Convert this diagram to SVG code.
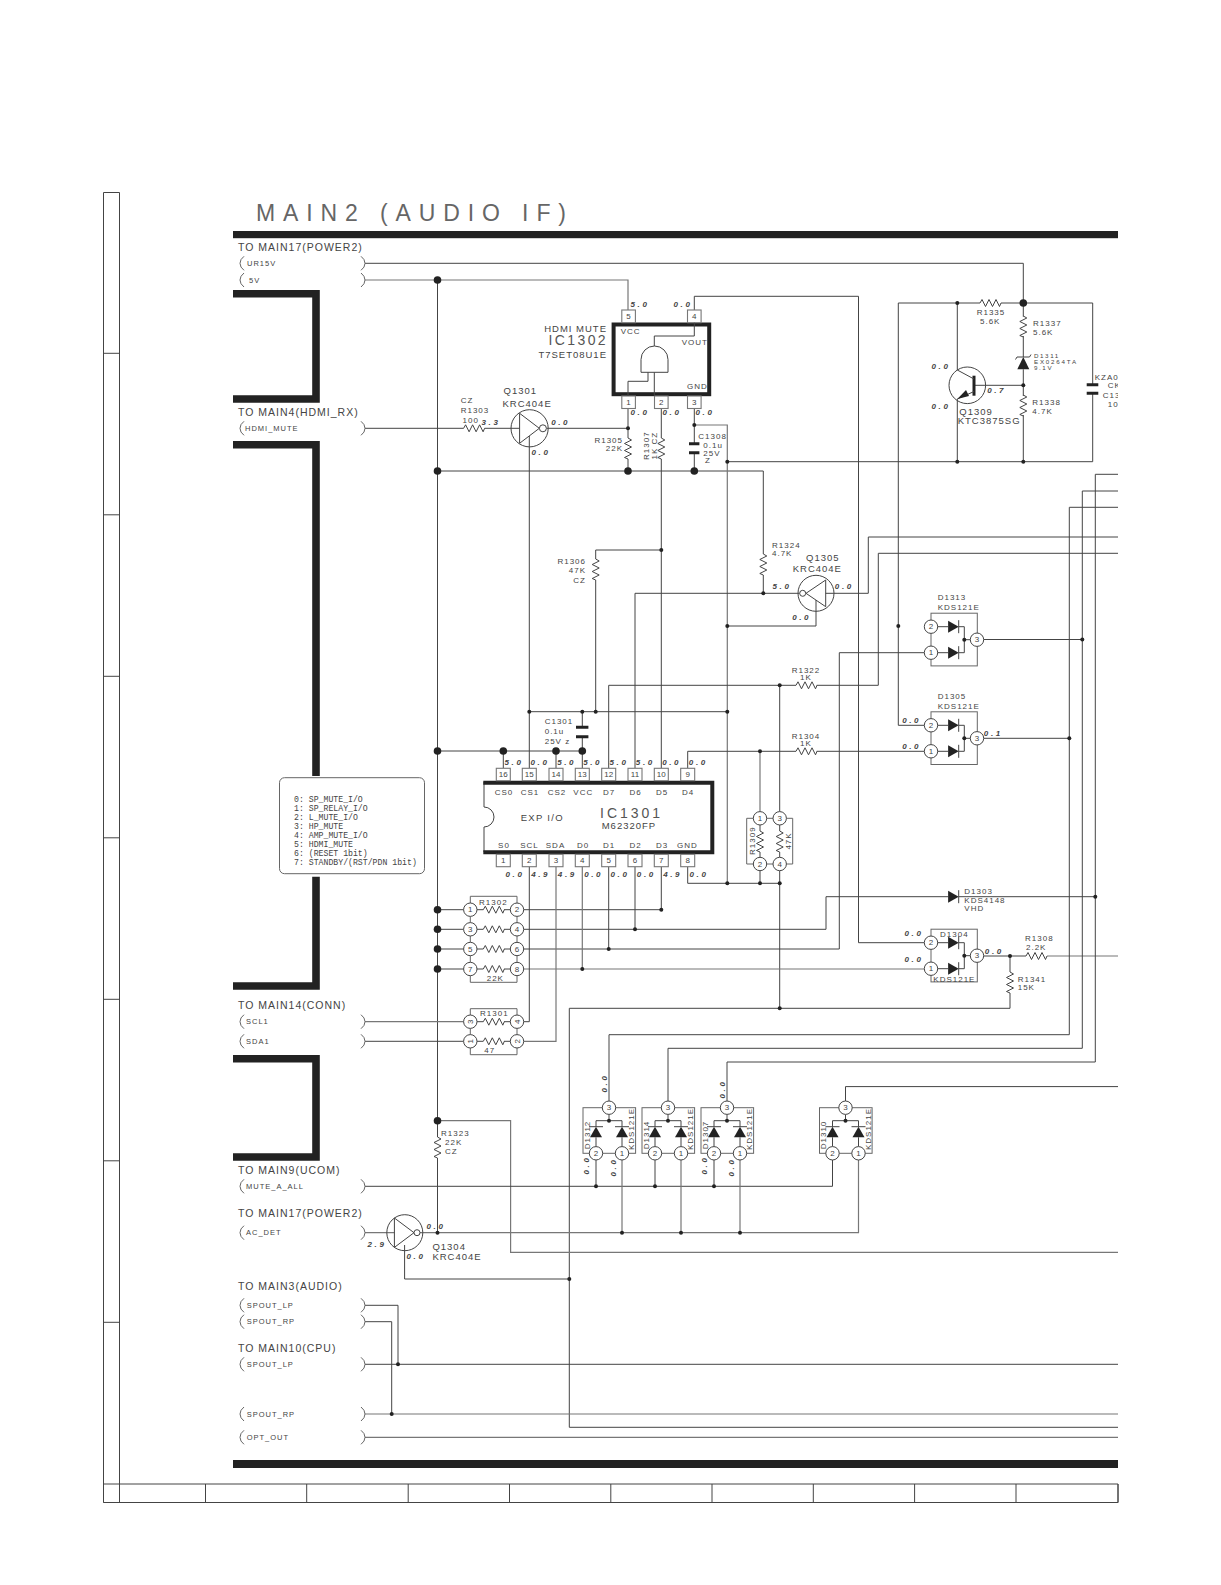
<svg xmlns="http://www.w3.org/2000/svg" width="1221" height="1585" viewBox="0 0 1221 1585">
<style>
text{font-family:"Liberation Sans",Arial,sans-serif;fill:#444;dominant-baseline:central;stroke:none}
.w,.w2,.b{fill:none;stroke:#444;stroke-width:1}
.w2{stroke:#777;stroke-width:1.2}
.b{stroke:#666}
.th{fill:none;stroke:#222;stroke-width:7.6}
.d{fill:#222;stroke:none}
.tf{fill:#222;stroke:none}
.p{fill:#fff;stroke:#444;stroke-width:1}
.pin{fill:#fff;stroke:#777;stroke-width:1.1}
.k{fill:none;stroke:#222;stroke-width:4}
.to{font-size:10.5px;letter-spacing:1px}
.s{font-size:7.5px;letter-spacing:1px}
.n{font-size:8px;letter-spacing:1px}
.m{font-size:9.5px;letter-spacing:1px}
.l{font-size:14px;letter-spacing:2.4px;fill:#555}
.z{font-size:6.2px;letter-spacing:1.6px}
.c{text-anchor:middle}
.e{text-anchor:end}
.v{font-size:8px;font-style:italic;font-weight:bold;letter-spacing:2.6px;text-anchor:middle}
.np{font-size:8px;text-anchor:middle}
.note{font-family:"Liberation Mono",monospace;font-size:8.2px}
</style>
<defs>
<clipPath id="edge"><rect x="0" y="0" width="1118" height="1585"/></clipPath>
<path id="res" class="w" d="M0,0l2,-3.5l3.5,7l3.5,-7l3.5,7l3.5,-7l3.5,7l1.5,-3.5"/>
<path id="pl" class="b" d="M4,-7Q0,-4 0,0Q0,4 4,7"/>
<path id="pr" class="b" d="M0,-7Q4,-4 4,0Q4,4 0,7"/>
<g id="dR"><path class="tf" d="M-10.6,-6v12l10.6,-6z"/><path class="w" d="M0,-6.5v13"/></g>
<g id="dU"><path class="tf" d="M-6,10.6h12l-6,-10.6z"/><path class="w" d="M-7,0h14"/></g>
<g id="arrH">
<rect class="b" x="0" y="-13.5" width="46.3" height="52.7"/>
<path class="w" d="M6,0H17M27.7,0H33.3V26H27.7M6,26H17M33.3,13H39.3"/>
<use href="#dR" x="27.7" y="0"/><use href="#dR" x="27.7" y="26"/>
<circle class="d" cx="33.3" cy="13" r="2"/>
<circle class="p" cx="0" cy="0" r="6.7"/><circle class="p" cx="0" cy="26" r="6.7"/><circle class="p" cx="46" cy="13" r="6.7"/>
</g>
<g id="arrV">
<rect class="b" x="0" y="1107.7" width="52.6" height="45.6"/>
<path class="w" d="M13,1146.6V1137.3M39,1146.6V1137.3M13,1126.7V1120.7H39V1126.7M26,1114.4V1120.7"/>
<use href="#dU" x="13" y="1126.7"/><use href="#dU" x="39" y="1126.7"/>
<circle class="d" cx="26" cy="1120.7" r="2"/>
<circle class="p" cx="26" cy="1107.7" r="6.7"/><circle class="p" cx="13" cy="1153.3" r="6.7"/><circle class="p" cx="39" cy="1153.3" r="6.7"/>
</g>
</defs>
<rect width="1221" height="1585" fill="#fff"/>

<g id="frame">
<path class="w" d="M103.5,192.5H119.5V1502.5H103.5ZM103.5,1484H1118V1502.5H103.5M103.5,353.3H119.5M103.5,514.8H119.5M103.5,676.3H119.5M103.5,837.8H119.5M103.5,999.3H119.5M103.5,1160.8H119.5M103.5,1322.3H119.5M205.5,1484V1502.5M306.7,1484V1502.5M408.2,1484V1502.5M509.5,1484V1502.5M610.8,1484V1502.5M712,1484V1502.5M813.3,1484V1502.5M914.6,1484V1502.5M1016,1484V1502.5M1118,1484V1502.5"/>
<text x="256" y="213.3" font-size="23" style="fill:#666" textLength="310" lengthAdjust="spacing">MAIN2 (AUDIO IF)</text>
<rect x="233" y="231" width="885" height="7.2" fill="#222"/>
<rect x="233" y="1460" width="885" height="8" fill="#222"/>
<path class="th" d="M233,293.7H316V399H233"/>
<path class="th" d="M233,444.7H316V776M316,876.7V986H233"/>
<path class="th" d="M233,1058.7H316V1157H233"/>
</g>

<g id="connectors">
<path class="w" d="M365,263.3H1023.3V316.7M1023.3,336V357M1023.3,369.3V396M1023.3,415V461.7"/>
<path class="w2" d="M365,280H628V310"/>
<path class="w" d="M437.5,280V1137M437.5,1158V1232.7"/>
<path class="w" d="M365,428.3H463.6M484.6,428.3H511M546.5,428.3H628"/>
<path class="w" d="M628,408V438M628,459V471"/>
<path class="w" d="M437.5,471H763.3V554M763.3,575V593.3"/>
<path class="w" d="M661.3,408V438M661.3,459V768"/>
<path class="w" d="M694.3,408V443.7M694.3,452.7V471"/>
<path class="w2" d="M694.3,425H727.3V883.3"/>
<path class="w" d="M727.3,461.7H1092.7V393.3M1092.7,384.7V303H1001M980,303H898.3V725.3H924"/>
<path class="w" d="M694.3,310V296.3H858.5V942.7H924"/>
<path class="w" d="M957.3,303V370M957.3,399V461.7M974,385.3H1023.3"/>
<path class="w" d="M529.3,436V768"/>
<path class="w" d="M529.3,711.7H727.3"/>
<path class="w" d="M661.3,550H595.7V559M595.7,580V711.7"/>
<path class="w" d="M582.3,711.7V727.3M582.3,736.7V768"/>
<path class="w" d="M437.5,751H582.3M503.3,751V768M556,751V768"/>
<path class="w" d="M608.7,768V685.3H796M816.7,685.3H878.3V553.3H1118"/>
<path class="w" d="M635,768V593.3H799.7M825.7,593.3H868.3V537H1118"/>
<path class="w" d="M816,600V626H727.3"/>
<path class="w" d="M687.7,768V751.3H796M816.7,751.3H924.3"/>
<path class="w2" d="M760,751.3V811.6"/>
<path class="w" d="M779.7,685.3V811.6M779.7,870.7V1008.3"/>
<path class="w" d="M760,870.7V883.3M687.7,866.7V883.3H779.7"/>
<path class="w" d="M661.3,866.7V909.7H523.7"/>
<path class="w" d="M635,866.7V929.3M523.7,929.3H826V896.7H948.3M958.7,896.7H1095.3"/>
<path class="w" d="M608.7,866.7V949M523.7,949H839.3V652.7H924"/>
<path class="w2" d="M582.3,866.7V969M523.7,969H924"/>
<path class="w" d="M529.3,866.7V1021.7H523.7"/>
<path class="w2" d="M556,866.7V1041.3H523.7"/>
<path class="w" d="M437.5,909.7H463.6M437.5,929.3H463.6M437.5,949H463.6M437.5,969H463.6"/>
<path class="w2" d="M365,1021.7H463.6"/>
<path class="w" d="M365,1041.3H463.6"/>
<path class="w" d="M983.7,639.5H1082.3M983.7,738.3H1069.3"/>
<path class="w" d="M983.7,956H1026M1010,956V972M1010,993V1008.3H569.3V1427.3H1118"/>
<path class="w2" d="M1047,956H1118"/>
<path class="w" d="M1118,474.3H1095.3V1062H727V1101"/>
<path class="w" d="M1118,491H1082.3V1048.3H668V1101"/>
<path class="w" d="M1118,507.3H1069.3V1034.7H609V1101"/>
<path class="w" d="M1118,1086.6H845.5V1101"/>
<path class="w2" d="M437.5,1120.7H510.6V1252.3H1118"/>
<path class="w" d="M365,1186.3H832.5V1160M596,1160V1186.3M655,1160V1186.3M714,1160V1186.3"/>
<path class="w2" d="M365,1232.7H394.4M418,1232.7H858.5V1160M622,1160V1232.7M681,1160V1232.7M740,1160V1232.7"/>
<path class="w" d="M404.6,1245V1279H569.3"/>
<path class="w" d="M365,1305.3H398V1364.3M365,1321.7H391.7V1414M365,1364.3H1118"/>
<path class="w2" d="M365,1414H1118M365,1437.3H1118"/>
<g class="d">
<circle cx="628" cy="428.3" r="2"/><circle cx="694.3" cy="425" r="2"/><circle cx="727.3" cy="461.7" r="2"/><circle cx="957.3" cy="303" r="2"/><circle cx="957.3" cy="461.7" r="2"/><circle cx="1023.3" cy="461.7" r="2"/><circle cx="1023.3" cy="385.3" r="2"/><circle cx="661.3" cy="550" r="2"/><circle cx="763.3" cy="593.3" r="2"/><circle cx="727.3" cy="626" r="2"/><circle cx="898.3" cy="626" r="2"/><circle cx="529.3" cy="711.7" r="2"/><circle cx="595.7" cy="711.7" r="2"/><circle cx="582.3" cy="711.7" r="2"/><circle cx="727.3" cy="711.7" r="2"/><circle cx="779.7" cy="685.3" r="2"/><circle cx="760" cy="751.3" r="2"/><circle cx="727.3" cy="883.3" r="2"/><circle cx="760" cy="883.3" r="2"/><circle cx="779.7" cy="883.3" r="2"/><circle cx="661.3" cy="909.7" r="2"/><circle cx="635" cy="929.3" r="2"/><circle cx="608.7" cy="949" r="2"/><circle cx="582.3" cy="969" r="2"/><circle cx="1082.3" cy="639.5" r="2"/><circle cx="1069.3" cy="738.3" r="2"/><circle cx="1095.3" cy="896.7" r="2"/><circle cx="1010" cy="956" r="2"/><circle cx="779.7" cy="1008.3" r="2"/><circle cx="437.5" cy="1232.7" r="2"/><circle cx="569.3" cy="1279" r="2"/><circle cx="398" cy="1364.3" r="2"/><circle cx="391.7" cy="1414" r="2"/><circle cx="596" cy="1186.3" r="2"/><circle cx="655" cy="1186.3" r="2"/><circle cx="714" cy="1186.3" r="2"/><circle cx="622" cy="1232.7" r="2"/><circle cx="681" cy="1232.7" r="2"/><circle cx="740" cy="1232.7" r="2"/>
<circle cx="437.5" cy="280" r="3.8"/><circle cx="437.5" cy="471" r="3.8"/><circle cx="628" cy="471" r="3.8"/><circle cx="694.3" cy="471" r="3.8"/><circle cx="1023.3" cy="303" r="3.8"/><circle cx="437.5" cy="751" r="3.8"/><circle cx="503.3" cy="751" r="3.8"/><circle cx="556" cy="751" r="3.8"/><circle cx="582.3" cy="751" r="3.8"/><circle cx="437.5" cy="909.7" r="3.8"/><circle cx="437.5" cy="929.3" r="3.8"/><circle cx="437.5" cy="949" r="3.8"/><circle cx="437.5" cy="969" r="3.8"/><circle cx="437.5" cy="1120.7" r="3.8"/>
</g>
</g>

<g id="ports">
<text class="to" x="238" y="247">TO MAIN17(POWER2)</text>
<use href="#pl" x="240" y="263.3"/><text class="s" x="247" y="263.3">UR15V</text><use href="#pr" x="361" y="263.3"/>
<use href="#pl" x="240" y="280"/><text class="s" x="249" y="280">5V</text><use href="#pr" x="361" y="280"/>
<text class="to" x="238" y="412">TO MAIN4(HDMI_RX)</text>
<use href="#pl" x="240" y="428.3"/><text class="s" x="245" y="428.3">HDMI_MUTE</text><use href="#pr" x="361" y="428.3"/>
<text class="to" x="238" y="1005">TO MAIN14(CONN)</text>
<use href="#pl" x="240" y="1021.7"/><text class="s" x="246" y="1021.7">SCL1</text><use href="#pr" x="361" y="1021.7"/>
<use href="#pl" x="240" y="1041.3"/><text class="s" x="246" y="1041.3">SDA1</text><use href="#pr" x="361" y="1041.3"/>
<text class="to" x="238" y="1170.3">TO MAIN9(UCOM)</text>
<use href="#pl" x="240" y="1186.3"/><text class="s" x="246" y="1186.3">MUTE_A_ALL</text><use href="#pr" x="361" y="1186.3"/>
<text class="to" x="238" y="1212.7">TO MAIN17(POWER2)</text>
<use href="#pl" x="240" y="1232.7"/><text class="s" x="246" y="1232.7">AC_DET</text><use href="#pr" x="361" y="1232.7"/>
<text class="to" x="238" y="1285.7">TO MAIN3(AUDIO)</text>
<use href="#pl" x="240" y="1305.3"/><text class="s" x="246.7" y="1305.3">SPOUT_LP</text><use href="#pr" x="361" y="1305.3"/>
<use href="#pl" x="240" y="1321.7"/><text class="s" x="246.7" y="1321.7">SPOUT_RP</text><use href="#pr" x="361" y="1321.7"/>
<text class="to" x="238" y="1348">TO MAIN10(CPU)</text>
<use href="#pl" x="240" y="1364.3"/><text class="s" x="246.7" y="1364.3">SPOUT_LP</text><use href="#pr" x="361" y="1364.3"/>
<use href="#pl" x="240" y="1414"/><text class="s" x="246.7" y="1414">SPOUT_RP</text><use href="#pr" x="361" y="1414"/>
<use href="#pl" x="240" y="1437.3"/><text class="s" x="246.7" y="1437.3">OPT_OUT</text><use href="#pr" x="361" y="1437.3"/>
</g>

<g id="IC1302">
<rect class="k" x="613.6" y="324.5" width="95.6" height="69.7"/>
<rect class="pin" x="621.8" y="310" width="13.6" height="12.7"/><rect class="pin" x="687.5" y="310" width="13.6" height="12.7"/>
<rect class="pin" x="621.8" y="396" width="13.6" height="12.5"/><rect class="pin" x="654.5" y="396" width="13.6" height="12.5"/><rect class="pin" x="687.5" y="396" width="13.6" height="12.5"/>
<text class="np" x="628.6" y="316.5">5</text><text class="np" x="694.3" y="316.5">4</text><text class="np" x="628.6" y="402.5">1</text><text class="np" x="661.3" y="402.5">2</text><text class="np" x="694.3" y="402.5">3</text>
<path class="w" d="M641,372.3V359.5A13.5,13.5 0 0 1 668,359.5V372.3ZM654.3,346V336H694.3V322.7M654.3,372.3V396M648,372.3V381.3H628V396"/>
<text class="m e" x="607" y="328">HDMI MUTE</text>
<text class="l e" x="608" y="340">IC1302</text>
<text class="m e" x="607" y="354">T7SET08U1E</text>
<text class="n" x="620.7" y="331">VCC</text><text class="n" x="681.7" y="342">VOUT</text><text class="n" x="687" y="386.7">GND</text>
<text class="v" x="640" y="304">5.0</text><text class="v" x="683" y="304">0.0</text><text class="v" x="640" y="412.7">0.0</text><text class="v" x="672" y="412.7">0.0</text><text class="v" x="705" y="412.7">0.0</text>
</g>

<g id="R1303"><use href="#res" x="463.6" y="428.3"/><text class="n" x="460.7" y="400">CZ</text><text class="n" x="460.7" y="410">R1303</text><text class="n" x="462.5" y="420">100</text><text class="v" x="491" y="422.3">3.3</text></g>

<g id="Q1301">
<circle class="w" cx="529.6" cy="428.3" r="18.6"/>
<path class="w" d="M511,428.3H519.6M519.6,413.3V443.3L539.3,428.3Z"/><circle class="p" cx="542.9" cy="428.3" r="3.5"/>
<text class="m" x="503.6" y="390.7">Q1301</text><text class="m" x="502.5" y="403">KRC404E</text>
<text class="v" x="560.7" y="422.3">0.0</text><text class="v" x="541" y="452.3">0.0</text>
</g>

<g id="R1305"><use href="#res" transform="translate(628,438) rotate(90)"/><text class="n e" x="623" y="440">R1305</text><text class="n e" x="623" y="448.7">22K</text></g>
<g id="R1307"><use href="#res" transform="translate(661.3,438) rotate(90)"/><text class="n c" transform="translate(646.7,445.7) rotate(-90)">R1307</text><text class="n c" transform="translate(654,445.7) rotate(-90)">1K CZ</text></g>
<g id="C1308"><path d="M689,443.7H699.4M689,452.7H699.4" stroke="#222" stroke-width="3" fill="none"/><text class="n" x="698.3" y="436.7">C1308</text><text class="n" x="703.3" y="445.7">0.1u</text><text class="n" x="703.3" y="453.3">25V</text><text class="n" x="705" y="460.7">Z</text></g>

<g id="R1335"><use href="#res" x="980" y="303"/><text class="n" x="976.7" y="312.7">R1335</text><text class="n" x="980" y="321.7">5.6K</text></g>
<g id="R1337"><use href="#res" transform="translate(1023.3,316) rotate(90)"/><text class="n" x="1033" y="323.7">R1337</text><text class="n" x="1033" y="332.3">5.6K</text></g>
<g id="D1311"><path class="tf" d="M1017.3,369.3H1029.3L1023.3,357Z"/><path class="w" d="M1015.5,359.5L1017,357H1029.5L1031,354.5"/><text class="z" x="1034" y="355.7">D1311</text><text class="z" x="1034" y="361.7" style="letter-spacing:1.8px">EX0264TA</text><text class="z" x="1034" y="367.7">9.1V</text></g>
<g id="R1338"><use href="#res" transform="translate(1023.3,395) rotate(90)"/><text class="n" x="1032.3" y="402.3">R1338</text><text class="n" x="1032.3" y="411.7">4.7K</text></g>
<g id="Q1309">
<circle class="w" cx="967.3" cy="385.3" r="18.3"/>
<path d="M974,375.7V395.7" stroke="#222" stroke-width="3" fill="none"/>
<path class="w" d="M957.3,370L974,379M974,391.5L957.3,399"/><path class="tf" d="M957.3,399L966,390L969,396Z"/>
<text class="v" x="941" y="366">0.0</text><text class="v" x="941" y="406.3">0.0</text><text class="v" x="996.7" y="390.3">0.7</text>
<text class="m" x="959.3" y="411.3">Q1309</text><text class="m" x="957.7" y="420.3">KTC3875SG</text>
</g>
<g id="C13" clip-path="url(#edge)"><path d="M1086.7,384.7H1098.3M1086.7,393.3H1098.3" stroke="#222" stroke-width="3" fill="none"/><text class="n" x="1094.7" y="377.7">KZA0</text><text class="n" x="1107.7" y="385">CK</text><text class="n" x="1102.7" y="395">C13</text><text class="n" x="1107.7" y="404">10</text></g>

<g id="R1324"><use href="#res" transform="translate(763.3,554) rotate(90)"/><text class="n" x="772" y="545">R1324</text><text class="n" x="772" y="553.3">4.7K</text></g>
<g id="Q1305">
<circle class="w" cx="816" cy="593.3" r="18"/>
<path class="w" d="M825.7,580V606.7L806,593.3Z"/><circle class="p" cx="802.7" cy="593.3" r="3"/>
<text class="m" x="806" y="557.7">Q1305</text><text class="m" x="792.7" y="568.7">KRC404E</text>
<text class="v" x="782" y="586.7">5.0</text><text class="v" x="844.3" y="586.7">0.0</text><text class="v" x="801.7" y="617.3">0.0</text>
</g>
<g id="R1306"><use href="#res" transform="translate(595.7,559) rotate(90)"/><text class="n e" x="586" y="561">R1306</text><text class="n e" x="586" y="570">47K</text><text class="n e" x="586" y="580">CZ</text></g>
<g id="C1301"><path d="M576,727.3H588.4M576,736.7H588.4" stroke="#222" stroke-width="3" fill="none"/><text class="n" x="544.7" y="721">C1301</text><text class="n" x="544.7" y="731.7">0.1u</text><text class="n" x="544.7" y="741">25V z</text></g>
<g id="R1322"><use href="#res" x="796" y="685.3"/><text class="n" x="791.7" y="670.3">R1322</text><text class="n" x="800" y="677">1K</text></g>
<g id="R1304"><use href="#res" x="796" y="751.3"/><text class="n" x="791.7" y="736">R1304</text><text class="n" x="800" y="743">1K</text></g>

<g id="note">
<rect x="279.5" y="777.7" width="145" height="96" rx="5" fill="#fff" stroke="#666" stroke-width="1"/>
<text class="note" x="294" y="799.7">0: SP_MUTE_I/O</text><text class="note" x="294" y="808.3">1: SP_RELAY_I/O</text><text class="note" x="294" y="817.3">2: L_MUTE_I/O</text><text class="note" x="294" y="826">3: HP_MUTE</text><text class="note" x="294" y="835">4: AMP_MUTE_I/O</text><text class="note" x="294" y="844">5: HDMI_MUTE</text><text class="note" x="294" y="853">6: (RESET 1bit)</text><text class="note" x="294" y="862">7: STANDBY/(RST/PDN 1bit)</text>
</g>

<g id="IC1301">
<path class="w" d="M484,782V807A10,10 0 0 1 484,827V852"/>
<path d="M483.3,782.7H712.3V852.2H483.3" fill="none" stroke="#222" stroke-width="4"/>
<g id="IC1301-pins">
<rect class="pin" x="496.3" y="768.3" width="14" height="12.4"/><rect class="pin" x="522.3" y="768.3" width="14" height="12.4"/><rect class="pin" x="549" y="768.3" width="14" height="12.4"/><rect class="pin" x="575.3" y="768.3" width="14" height="12.4"/><rect class="pin" x="601.7" y="768.3" width="14" height="12.4"/><rect class="pin" x="628" y="768.3" width="14" height="12.4"/><rect class="pin" x="654.3" y="768.3" width="14" height="12.4"/><rect class="pin" x="680.7" y="768.3" width="14" height="12.4"/>
<rect class="pin" x="496.3" y="854.3" width="14" height="12.4"/><rect class="pin" x="522.3" y="854.3" width="14" height="12.4"/><rect class="pin" x="549" y="854.3" width="14" height="12.4"/><rect class="pin" x="575.3" y="854.3" width="14" height="12.4"/><rect class="pin" x="601.7" y="854.3" width="14" height="12.4"/><rect class="pin" x="628" y="854.3" width="14" height="12.4"/><rect class="pin" x="654.3" y="854.3" width="14" height="12.4"/><rect class="pin" x="680.7" y="854.3" width="14" height="12.4"/>
</g>
<text class="np" x="503.3" y="774.5">16</text><text class="np" x="529.3" y="774.5">15</text><text class="np" x="556" y="774.5">14</text><text class="np" x="582.3" y="774.5">13</text><text class="np" x="608.7" y="774.5">12</text><text class="np" x="635" y="774.5">11</text><text class="np" x="661.3" y="774.5">10</text><text class="np" x="687.7" y="774.5">9</text>
<text class="np" x="503.3" y="860.5">1</text><text class="np" x="529.3" y="860.5">2</text><text class="np" x="556" y="860.5">3</text><text class="np" x="582.3" y="860.5">4</text><text class="np" x="608.7" y="860.5">5</text><text class="np" x="635" y="860.5">6</text><text class="np" x="661.3" y="860.5">7</text><text class="np" x="687.7" y="860.5">8</text>
<text class="n c" x="504" y="792.3">CS0</text><text class="n c" x="530" y="792.3">CS1</text><text class="n c" x="557" y="792.3">CS2</text><text class="n c" x="583.3" y="792.3">VCC</text><text class="n c" x="609" y="792.3">D7</text><text class="n c" x="635.5" y="792.3">D6</text><text class="n c" x="662" y="792.3">D5</text><text class="n c" x="688" y="792.3">D4</text>
<text class="n c" x="504" y="845.7">S0</text><text class="n c" x="529.5" y="845.7">SCL</text><text class="n c" x="555.5" y="845.7">SDA</text><text class="n c" x="583" y="845.7">D0</text><text class="n c" x="609" y="845.7">D1</text><text class="n c" x="635.5" y="845.7">D2</text><text class="n c" x="662" y="845.7">D3</text><text class="n c" x="687.5" y="845.7">GND</text>
<text class="m" x="520.7" y="817.3" style="letter-spacing:1.3px">EXP I/O</text>
<text class="l" x="600" y="813" style="letter-spacing:3px">IC1301</text>
<text class="m" x="601.7" y="825.7">M62320FP</text>
<text class="v" x="514" y="762">5.0</text><text class="v" x="540" y="762">0.0</text><text class="v" x="566.7" y="762">5.0</text><text class="v" x="592.7" y="762">5.0</text><text class="v" x="619" y="762">5.0</text><text class="v" x="645.3" y="762">5.0</text><text class="v" x="671.7" y="762">0.0</text><text class="v" x="698.3" y="762">0.0</text>
<text class="v" x="515" y="874">0.0</text><text class="v" x="540.7" y="874">4.9</text><text class="v" x="567.3" y="874">4.9</text><text class="v" x="593.7" y="874">0.0</text><text class="v" x="620" y="874">0.0</text><text class="v" x="646.3" y="874">0.0</text><text class="v" x="672.7" y="874">4.9</text><text class="v" x="699" y="874">0.0</text>
</g>

<g id="R1302">
<path class="b" d="M470.3,903V896.3H517V903M470.3,975.7V982.3H517V975.7M470.3,916.4V922.6M517,916.4V922.6M470.3,936V942.3M517,936V942.3M470.3,955.7V962.3M517,955.7V962.3"/>
<path class="w" d="M477,909.7H483.3M504,909.7H510.3M477,929.3H483.3M504,929.3H510.3M477,949H483.3M504,949H510.3M477,969H483.3M504,969H510.3"/>
<use href="#res" x="483.3" y="909.7"/><use href="#res" x="483.3" y="929.3"/><use href="#res" x="483.3" y="949"/><use href="#res" x="483.3" y="969"/>
<circle class="p" cx="470.3" cy="909.7" r="6.7"/><circle class="p" cx="517" cy="909.7" r="6.7"/><circle class="p" cx="470.3" cy="929.3" r="6.7"/><circle class="p" cx="517" cy="929.3" r="6.7"/><circle class="p" cx="470.3" cy="949" r="6.7"/><circle class="p" cx="517" cy="949" r="6.7"/><circle class="p" cx="470.3" cy="969" r="6.7"/><circle class="p" cx="517" cy="969" r="6.7"/>
<text class="np" x="470.3" y="909.7">1</text><text class="np" x="517" y="909.7">2</text><text class="np" x="470.3" y="929.3">3</text><text class="np" x="517" y="929.3">4</text><text class="np" x="470.3" y="949">5</text><text class="np" x="517" y="949">6</text><text class="np" x="470.3" y="969">7</text><text class="np" x="517" y="969">8</text>
<text class="n" x="479" y="902.7">R1302</text><text class="n" x="486.7" y="978.3">22K</text>
</g>
<g id="R1301">
<path class="b" d="M470.3,1015V1008.7H517V1015M470.3,1048V1054.7H517V1048M470.3,1028.4V1034.6M517,1028.4V1034.6"/>
<path class="w" d="M477,1021.7H483.3M504,1021.7H510.3M477,1041.3H483.3M504,1041.3H510.3"/>
<use href="#res" x="483.3" y="1021.7"/><use href="#res" x="483.3" y="1041.3"/>
<circle class="p" cx="470.3" cy="1021.7" r="6.7"/><circle class="p" cx="517" cy="1021.7" r="6.7"/><circle class="p" cx="470.3" cy="1041.3" r="6.7"/><circle class="p" cx="517" cy="1041.3" r="6.7"/>
<text class="np" transform="translate(470.3,1021.7) rotate(-90)">3</text><text class="np" transform="translate(517,1021.7) rotate(-90)">4</text><text class="np" transform="translate(470.3,1041.3) rotate(-90)">1</text><text class="np" transform="translate(517,1041.3) rotate(-90)">2</text>
<text class="n" x="480" y="1013.3">R1301</text><text class="n" x="484.3" y="1050.3">47</text>
</g>

<g id="R1309">
<path class="b" d="M753.3,818.3H746.7V864H753.3M786.4,818.3H792.7V864H786.4M766.7,818.3H773M766.7,864H773"/>
<path class="w" d="M760,825V831M760,852V857.3M779.7,825V831M779.7,852V857.3"/>
<use href="#res" transform="translate(760,831) rotate(90)"/><use href="#res" transform="translate(779.7,831) rotate(90)"/>
<circle class="p" cx="760" cy="818.3" r="6.7"/><circle class="p" cx="779.7" cy="818.3" r="6.7"/><circle class="p" cx="760" cy="864" r="6.7"/><circle class="p" cx="779.7" cy="864" r="6.7"/>
<text class="np" x="760" y="818.3">1</text><text class="np" x="779.7" y="818.3">3</text><text class="np" x="760" y="864">2</text><text class="np" x="779.7" y="864">4</text>
<text class="n c" transform="translate(752.3,840.7) rotate(-90)">R1309</text><text class="n c" transform="translate(788,841) rotate(-90)">47K</text>
</g>

<g id="D1313"><use href="#arrH" x="931" y="626.7"/><text class="np" x="931" y="626.7">2</text><text class="np" x="931" y="652.7">1</text><text class="np" x="977" y="639.7">3</text><text class="n" x="937.7" y="597.7">D1313</text><text class="n" x="937.7" y="607.7">KDS121E</text></g>
<g id="D1305"><use href="#arrH" x="931" y="725.3"/><text class="np" x="931" y="725.3">2</text><text class="np" x="931" y="751.3">1</text><text class="np" x="977" y="738.3">3</text><text class="n" x="937.7" y="696.7">D1305</text><text class="n" x="937.7" y="706.7">KDS121E</text><text class="v" x="911.7" y="720.7">0.0</text><text class="v" x="911.7" y="746.7">0.0</text><text class="v" x="993.3" y="733.7">0.1</text></g>
<g id="D1304"><use href="#arrH" x="931" y="942.7"/><text class="np" x="931" y="942.7">2</text><text class="np" x="931" y="968.7">1</text><text class="np" x="977" y="955.7">3</text><text class="n" x="940" y="934.3">D1304</text><text class="n" x="933.3" y="979">KDS121E</text><text class="v" x="914" y="933">0.0</text><text class="v" x="914" y="959.3">0.0</text><text class="v" x="994.3" y="951">0.0</text></g>
<g id="D1303"><use href="#dR" x="958.7" y="896.7"/><text class="n" x="964.3" y="891">D1303</text><text class="n" x="964.3" y="900.3">KDS4148</text><text class="n" x="964.3" y="908.7">VHD</text></g>
<g id="R1308"><use href="#res" x="1026" y="956"/><text class="n" x="1025" y="938.7">R1308</text><text class="n" x="1026" y="947.3">2.2K</text></g>
<g id="R1341"><use href="#res" transform="translate(1010,972) rotate(90)"/><text class="n" x="1017.7" y="979">R1341</text><text class="n" x="1017.7" y="987.7">15K</text></g>

<g id="R1323"><use href="#res" transform="translate(437.5,1137) rotate(90)"/><text class="n" x="441" y="1133.7">R1323</text><text class="n" x="445" y="1142.5">22K</text><text class="n" x="445" y="1151">CZ</text></g>
<g id="Q1304">
<circle class="w" cx="404.8" cy="1232.7" r="18"/>
<path class="w" d="M394.4,1218V1247.4L414,1232.7Z"/><circle class="p" cx="417" cy="1232.7" r="3"/>
<text class="v" x="436" y="1226.7">0.0</text><text class="v" x="377" y="1244">2.9</text><text class="m" x="432.4" y="1246.3">Q1304</text><text class="v" x="416" y="1256.3">0.0</text><text class="m" x="432.4" y="1256.3">KRC404E</text>
</g>

<g id="D1312"><use href="#arrV" x="583"/><text class="np" x="609" y="1107.7">3</text><text class="np" x="596" y="1153.3">2</text><text class="np" x="622" y="1153.3">1</text><text class="n c" transform="translate(587,1135) rotate(-90)">D1312</text><text class="n c" transform="translate(631.5,1129) rotate(-90)">KDS121E</text><text class="v" transform="translate(586,1165) rotate(-90)">0.0</text><text class="v" transform="translate(613,1167) rotate(-90)">0.0</text><text class="v" transform="translate(604,1083) rotate(-90)">0.0</text></g>
<g id="D1314"><use href="#arrV" x="642"/><text class="np" x="668" y="1107.7">3</text><text class="np" x="655" y="1153.3">2</text><text class="np" x="681" y="1153.3">1</text><text class="n c" transform="translate(646,1135) rotate(-90)">D1314</text><text class="n c" transform="translate(690.5,1129) rotate(-90)">KDS121E</text></g>
<g id="D1307"><use href="#arrV" x="701"/><text class="np" x="727" y="1107.7">3</text><text class="np" x="714" y="1153.3">2</text><text class="np" x="740" y="1153.3">1</text><text class="n c" transform="translate(705,1135) rotate(-90)">D1307</text><text class="n c" transform="translate(749.5,1129) rotate(-90)">KDS121E</text><text class="v" transform="translate(704.6,1165) rotate(-90)">0.0</text><text class="v" transform="translate(731.5,1167) rotate(-90)">0.0</text><text class="v" transform="translate(722.6,1089) rotate(-90)">0.0</text></g>
<g id="D1310"><use href="#arrV" x="819.5"/><text class="np" x="845.5" y="1107.7">3</text><text class="np" x="832.5" y="1153.3">2</text><text class="np" x="858.5" y="1153.3">1</text><text class="n c" transform="translate(823.5,1135) rotate(-90)">D1310</text><text class="n c" transform="translate(868,1129) rotate(-90)">KDS121E</text></g>
</svg>
